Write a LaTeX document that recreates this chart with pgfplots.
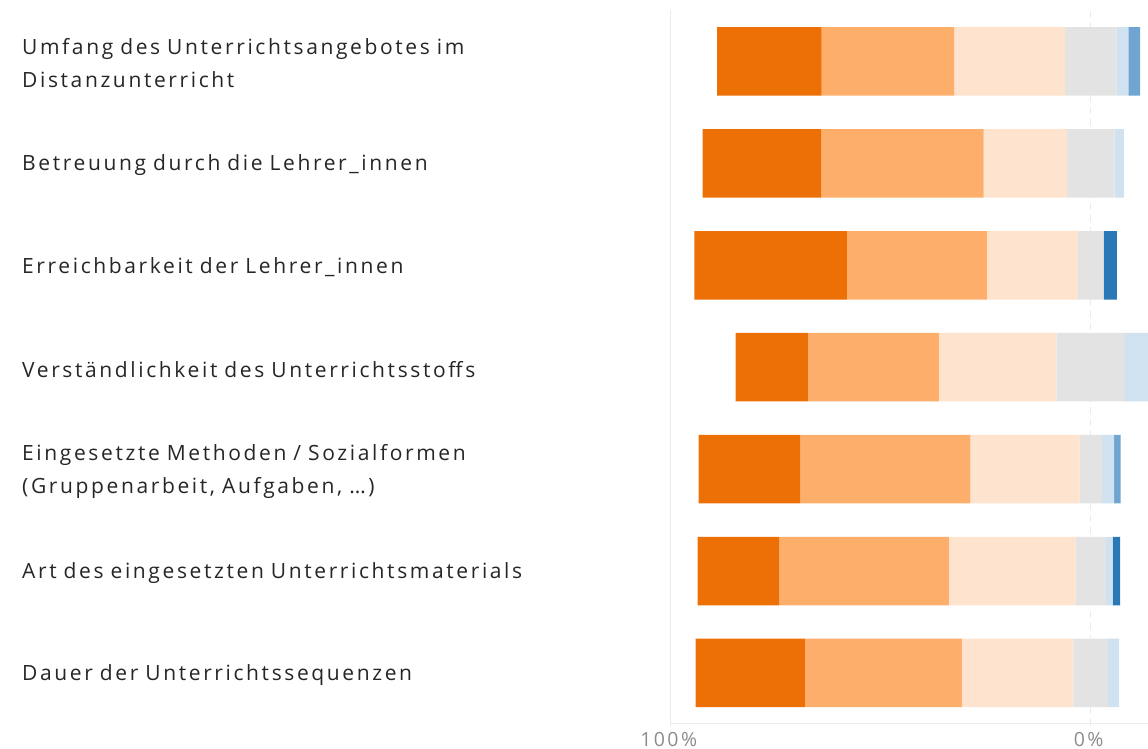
\documentclass[border=0pt]{standalone}
\usepackage{fontspec}
\setmainfont{Open Sans}
\newfontfamily\lblfont[LetterSpace=12.5, WordSpace=1.5]{Open Sans}
\usepackage{pgfplots}
\pgfplotsset{compat=1.18}
\definecolor{od}{HTML}{EC7006}
\definecolor{om}{HTML}{FDAE6B}
\definecolor{ol}{HTML}{FEE4CE}
\definecolor{gr}{HTML}{E3E3E3}
\definecolor{bl}{HTML}{D0E2F0}
\definecolor{bm}{HTML}{6FA5D0}
\definecolor{bd}{HTML}{2A78B6}
\definecolor{gridc}{HTML}{EBEBEB}
\definecolor{txt}{HTML}{262626}
\definecolor{tick}{HTML}{8C8C8C}
\begin{document}
\begin{tikzpicture}[x=1pt,y=1pt]
\useasboundingbox (0,0) rectangle (1148,749);
\begin{axis}[
  at={(666.5pt,23pt)}, anchor=south west,
  scale only axis, width=481.5pt, height=716pt,
  xmin=-101, xmax=13.64,
  ymin=-0.52, ymax=6.505,
  xbar stacked, stack negative=on previous, bar width=68.5pt,
  axis line style={draw=none},
  major tick length=0pt,
  xtick={-100,0}, xticklabels={100\%,0\%},
  xticklabel style={font=\lblfont\fontsize{19.5}{20}\selectfont, text=tick, anchor=north, inner sep=0pt, yshift=-6pt, xshift=-2pt},
  ytick={0,1,2,3,4,5,6},
  yticklabels={
    {Dauer der Unterrichtssequenzen},
    {Art des eingesetzten Unterrichtsmaterials},
    {Eingesetzte Methoden / Sozialformen\\(Gruppenarbeit, Aufgaben, …)},
    {Verständlichkeit des Unterrichtsstoffs},
    {Erreichbarkeit der Lehrer\_innen},
    {Betreuung durch die Lehrer\_innen},
    {Umfang des Unterrichtsangebotes im\\Distanzunterricht}},
  yticklabel style={anchor=west, xshift=-644.5pt, yshift=-2pt, inner sep=0pt, align=left, text width=600pt, font=\lblfont\fontsize{21}{33}\selectfont, text=txt},
  every axis plot/.append style={draw=none},
]
% invisible offset
\addplot[fill=none, draw=none] coordinates {(-94.05,0) (-93.6,1) (-93.35,2) (-84.55,3) (-94.35,4) (-92.4,5) (-88.95,6)};
\addplot[fill=od] coordinates {(26.0,0) (19.5,1) (24.2,2) (17.2,3) (36.3,4) (28.3,5) (24.9,6)};
\addplot[fill=om] coordinates {(37.4,0) (40.3,1) (40.5,2) (31.2,3) (33.3,4) (38.6,5) (31.5,6)};
\addplot[fill=ol] coordinates {(26.5,0) (30.2,1) (26.0,2) (28.0,3) (21.7,4) (19.8,5) (26.4,6)};
\addplot[fill=gr] coordinates {(8.3,0) (7.2,1) (5.3,2) (16.3,3) (6.1,4) (11.4,5) (12.3,6)};
\addplot[fill=bl] coordinates {(2.6,0) (1.6,1) (2.9,2) (7.3,3) (0,4) (2.2,5) (2.8,6)};
\addplot[fill=bm] coordinates {(0,0) (0,1) (1.6,2) (0,3) (0,4) (0,5) (2.8,6)};
\addplot[fill=bd] coordinates {(0,0) (1.8,1) (0,2) (0,3) (3.2,4) (0,5) (0,6)};
\draw[gridc, line width=1pt] (axis cs:-100,-0.52) -- (axis cs:-100,6.505);
\draw[gridc, line width=1pt, dash pattern=on 7pt off 5pt] (axis cs:0,-0.52) -- (axis cs:0,6.505);
\draw[gridc, line width=1pt] (axis cs:-100,-0.50) -- (axis cs:13.64,-0.50);
\end{axis}
\end{tikzpicture}
\end{document}
